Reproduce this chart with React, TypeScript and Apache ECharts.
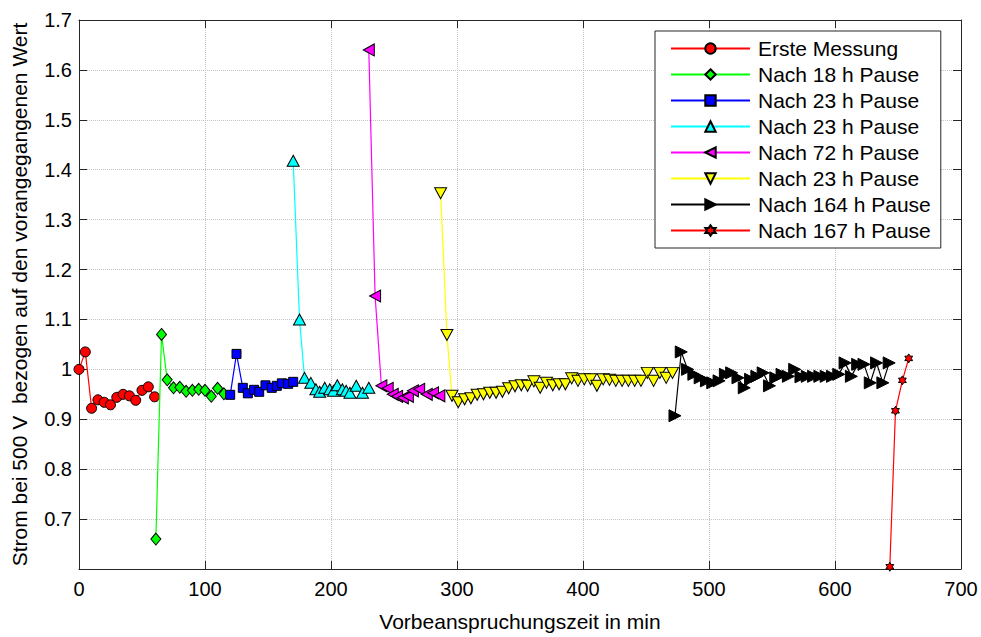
import React, { useEffect, useRef } from "react";
import * as echarts from "echarts";

// ---- data ----
const LEGEND_LABELS = [
  "Erste Messung",
  "Nach 18 h Pause",
  "Nach 23 h Pause",
  "Nach 23 h Pause",
  "Nach 72 h Pause",
  "Nach 23 h Pause",
  "Nach 164 h Pause",
  "Nach 167 h Pause",
];

const X_TICKS = [0, 100, 200, 300, 400, 500, 600, 700];
const Y_TICKS = [0.7, 0.8, 0.9, 1, 1.1, 1.2, 1.3, 1.4, 1.5, 1.6, 1.7];

const X_ERSTE = [0, 5, 10, 15, 20, 25, 30, 35, 40, 45, 50, 55, 60];
const Y_ERSTE = [1.0, 1.035, 0.922, 0.939, 0.934, 0.929, 0.944, 0.95, 0.947, 0.938, 0.958, 0.965, 0.945];

const X_18H = [61, 65.5, 70, 75, 80, 85, 90, 95, 100, 105, 110, 115];
const Y_18H = [0.66, 1.07, 0.979, 0.963, 0.964, 0.956, 0.958, 0.96, 0.958, 0.946, 0.962, 0.951];

const X_23H_A = [120, 125, 130, 134, 139, 143, 148, 153, 157, 161, 166, 170];
const Y_23H_A = [0.949, 1.031, 0.963, 0.952, 0.959, 0.955, 0.968, 0.963, 0.967, 0.972, 0.971, 0.975];

const X_23H_B = [170, 175, 179, 184, 188, 191, 195, 199, 202, 205, 209, 212, 215, 220, 225, 230];
const Y_23H_B = [1.418, 1.1, 0.983, 0.973, 0.96, 0.955, 0.963, 0.96, 0.957, 0.968, 0.96, 0.957, 0.953, 0.967, 0.953, 0.963];

const X_72H = [230, 235, 240, 245, 249, 252.5, 257, 261, 265, 270, 276, 281, 286];
const Y_72H = [1.64, 1.147, 0.967, 0.962, 0.95, 0.946, 0.943, 0.946, 0.957, 0.96, 0.95, 0.953, 0.947];

const X_23H_C = [287, 292, 296, 301, 306, 311, 316, 321, 326, 331, 336, 341, 346, 351, 356, 361, 366, 371, 376, 381, 386, 391, 396, 401, 406, 411, 416, 421, 426, 431, 436, 441, 446, 451, 456, 461, 466, 471];
const Y_23H_C = [1.353, 1.069, 0.947, 0.934, 0.94, 0.942, 0.949, 0.95, 0.953, 0.953, 0.955, 0.962, 0.966, 0.968, 0.967, 0.976, 0.963, 0.973, 0.968, 0.97, 0.97, 0.982, 0.977, 0.98, 0.98, 0.967, 0.98, 0.979, 0.977, 0.977, 0.977, 0.977, 0.977, 0.993, 0.977, 0.993, 0.983, 0.993];

const X_164H = [473, 478, 483, 488, 493, 498, 503, 508, 513, 518, 523, 528, 533, 538, 543, 548, 553, 558, 563, 568, 573, 578, 583, 588, 593, 598, 603, 608, 613, 618, 623, 628, 633, 638, 643];
const Y_164H = [0.907, 1.035, 1.0, 0.99, 0.983, 0.977, 0.973, 0.977, 0.99, 0.993, 0.983, 0.963, 0.98, 0.986, 0.993, 0.967, 0.983, 0.99, 0.986, 1.0, 0.985, 0.986, 0.986, 0.986, 0.986, 0.986, 0.99, 1.013, 0.986, 1.01, 1.01, 0.973, 1.013, 0.973, 1.013];

const X_167H = [643.5, 648, 653.5, 658.5];
const Y_167H = [0.6045, 0.917, 0.978, 1.022];

const SERIES_X = [X_ERSTE, X_18H, X_23H_A, X_23H_B, X_72H, X_23H_C, X_164H, X_167H];
const SERIES_Y = [Y_ERSTE, Y_18H, Y_23H_A, Y_23H_B, Y_72H, Y_23H_C, Y_164H, Y_167H];

// ---- styles ----
const HEXAGRAM =
  "path://M100,0 L128.87,50 L186.6,50 L157.7,100 L186.6,150 L128.87,150 L100,200 L71.13,150 L13.4,150 L42.3,100 L13.4,50 L71.13,50 Z";

const STYLES: { color: string; symbol: string; size: number | number[]; rotate: number }[] = [
  { color: "#ff0000", symbol: "circle", size: 10, rotate: 0 },
  { color: "#00ff00", symbol: "diamond", size: [10, 12], rotate: 0 },
  { color: "#0000ff", symbol: "rect", size: 9, rotate: 0 },
  { color: "#00ffff", symbol: "triangle", size: [12, 11], rotate: 0 },
  { color: "#ff00ff", symbol: "triangle", size: [12, 11], rotate: 90 },
  { color: "#ffff00", symbol: "triangle", size: [12, 11], rotate: 180 },
  { color: "#000000", symbol: "triangle", size: [12, 12], rotate: -90 },
  { color: "#ff0000", symbol: HEXAGRAM, size: 9, rotate: 0 },
];

const FONT = "Liberation Sans, Arial, Helvetica, sans-serif";
const AXIS_COLOR = "#262626";

export default function App() {
  const ref = useRef<HTMLDivElement>(null);

  useEffect(() => {
    if (!ref.current) return;
    const chart = echarts.init(ref.current, undefined, { renderer: "svg" });

    const series = SERIES_X.map((xs, i) => {
      const st = STYLES[i];
      return {
        name: String(i),
        type: "line",
        xAxisIndex: 0,
        yAxisIndex: 0,
        data: xs.map((x, j) => [x, SERIES_Y[i][j]]),
        symbol: st.symbol,
        symbolSize: st.size,
        symbolRotate: st.rotate,
        symbolKeepAspect: true,
        showAllSymbol: true,
        clip: false,
        lineStyle: { color: st.color, width: 1.2 },
        itemStyle: { color: st.color, borderColor: "#000", borderWidth: 1 },
        emphasis: { disabled: true },
        z: 3 + i,
      };
    });

    const yFmt = (v: number) => {
      const r = Math.round(v * 10) / 10;
      return Y_TICKS.some((t) => Math.abs(t - r) < 1e-6) ? String(r) : "";
    };
    const xFmt = (v: number) => (X_TICKS.includes(Math.round(v)) ? String(Math.round(v)) : "");

    chart.setOption({
      animation: false,
      backgroundColor: "#ffffff",
      textStyle: { fontFamily: FONT, color: "#000" },
      grid: { left: 79, right: 20, top: 20, bottom: 62, containLabel: false },
      legend: {
        orient: "vertical",
        left: 655,
        top: 31,
        itemWidth: 79,
        itemHeight: 13,
        itemGap: 5,
        padding: [7, 10, 7, 15],
        borderColor: AXIS_COLOR,
        borderWidth: 1,
        backgroundColor: "#ffffff",
        selectedMode: false,
        textStyle: { fontSize: 21, color: "#000", fontFamily: FONT, padding: [0, 0, 0, 3] },
        formatter: (name: string) => LEGEND_LABELS[Number(name)],
        data: SERIES_X.map((_, i) => String(i)),
      },
      xAxis: [
        {
          type: "value",
          position: "bottom",
          min: 0,
          max: 700,
          interval: 100,
          name: "Vorbeanspruchungszeit in min",
          nameLocation: "middle",
          nameGap: 42,
          nameTextStyle: { fontSize: 21, color: "#000", fontFamily: FONT },
          axisLine: { show: true, onZero: false, lineStyle: { color: AXIS_COLOR, width: 1 } },
          axisTick: { show: true, inside: true, length: 8, lineStyle: { color: AXIS_COLOR } },
          axisLabel: { fontSize: 20, color: "#000", margin: 10, formatter: xFmt, fontFamily: FONT },
          splitLine: { show: true, lineStyle: { type: "dotted", color: "#c4c4c4", width: 1 } },
        },
        {
          type: "value",
          position: "top",
          min: 0,
          max: 700,
          interval: 100,
          axisLine: { show: true, onZero: false, lineStyle: { color: AXIS_COLOR, width: 1 } },
          axisTick: { show: true, inside: true, length: 8, lineStyle: { color: AXIS_COLOR } },
          axisLabel: { show: false },
          splitLine: { show: false },
        },
      ],
      yAxis: [
        {
          type: "value",
          position: "left",
          min: 0.6,
          max: 1.7,
          interval: 0.1,
          name: "Strom bei 500 V  bezogen auf den vorangegangenen Wert",
          nameLocation: "middle",
          nameGap: 49,
          nameTextStyle: { fontSize: 21, color: "#000", fontFamily: FONT },
          axisLine: { show: true, onZero: false, lineStyle: { color: AXIS_COLOR, width: 1 } },
          axisTick: { show: true, inside: true, length: 8, lineStyle: { color: AXIS_COLOR } },
          axisLabel: { fontSize: 20, color: "#000", margin: 7, formatter: yFmt, fontFamily: FONT },
          splitLine: { show: true, lineStyle: { type: "dotted", color: "#c4c4c4", width: 1 } },
        },
        {
          type: "value",
          position: "right",
          min: 0.6,
          max: 1.7,
          interval: 0.1,
          axisLine: { show: true, onZero: false, lineStyle: { color: AXIS_COLOR, width: 1 } },
          axisTick: { show: true, inside: true, length: 8, lineStyle: { color: AXIS_COLOR } },
          axisLabel: { show: false },
          splitLine: { show: false },
        },
      ],
      series,
    });

    return () => chart.dispose();
  }, []);

  return (
    <div
      ref={ref}
      style={{ position: "absolute", left: 0, top: 0, width: 981, height: 637, background: "#fff" }}
    />
  );
}
